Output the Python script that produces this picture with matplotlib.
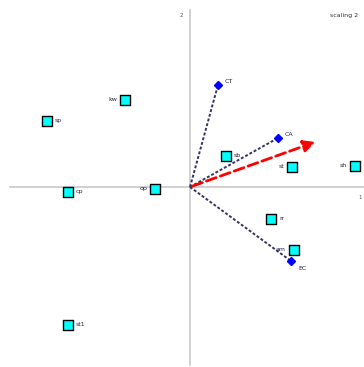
import matplotlib
matplotlib.use("Agg")
import matplotlib.pyplot as plt

# site scores (cyan squares)
site_names = ["kw", "sp", "cp", "op", "sb", "st", "sh", "rr", "am", "st1"]
site_x = [-0.65, -1.43, -1.22, -0.35, 0.36, 1.02, 1.65, 0.81, 1.04, -1.22]
site_y = [0.87, 0.66, -0.05, -0.02, 0.31, 0.20, 0.21, -0.32, -0.63, -1.38]
site_side = ["l", "r", "r", "l", "r", "l", "l", "r", "l", "r"]

# environmental vectors (blue diamonds)
env_names = ["CT", "CA", "EC"]
env_x = [0.28, 0.88, 1.01]
env_y = [1.02, 0.49, -0.74]

# fitted vector (red)
red_x = 1.28
red_y = 0.46

fig = plt.figure(figsize=(3.64, 3.67), dpi=100)
ax = fig.add_axes([0, 0, 1, 1])
ax.set_xlim(-1.9, 1.74)
ax.set_ylim(-1.8, 1.87)
ax.axis("off")

# axes through origin
ax.plot([-1.8, 1.74], [0, 0], color="#c8c8c8", lw=1.2, zorder=1)
ax.plot([0, 0], [-1.78, 1.77], color="#c8c8c8", lw=1.2, zorder=1)
ax.text(-0.1, 1.7, "2", fontsize=4, color="#555555")
ax.text(1.68, -0.12, "1", fontsize=4, color="#555555")
ax.text(1.4, 1.7, "scaling 2", fontsize=4.5, color="#333333")

# env arrows
for n, x, y in zip(env_names, env_x, env_y):
    ax.plot([0, x], [0, y], color="#333366", lw=1.4, ls=(0, (1.5, 1)), zorder=2)
    ax.plot(x, y, marker="D", color="blue", ms=4.5, zorder=3)
    dy = -0.07 if y < 0 else 0.03
    ax.text(x + 0.07, y + dy, n, fontsize=4.5, color="#222244", va="center")

ax.annotate("", xy=(red_x, red_y), xytext=(0, 0),
            arrowprops=dict(arrowstyle="-|>,head_length=0.7,head_width=0.35",
                            color="red", lw=2, ls="--"), zorder=2)

# sites
ax.scatter(site_x, site_y, marker="s", s=45, facecolor="cyan",
           edgecolor="black", linewidth=1, zorder=4)
for n, x, y, s in zip(site_names, site_x, site_y, site_side):
    if s == "l":
        ax.text(x - 0.08, y, n, fontsize=4.5, ha="right", va="center", color="#222244")
    else:
        ax.text(x + 0.08, y, n, fontsize=4.5, ha="left", va="center", color="#222244")

fig.savefig("out.png", dpi=100)
